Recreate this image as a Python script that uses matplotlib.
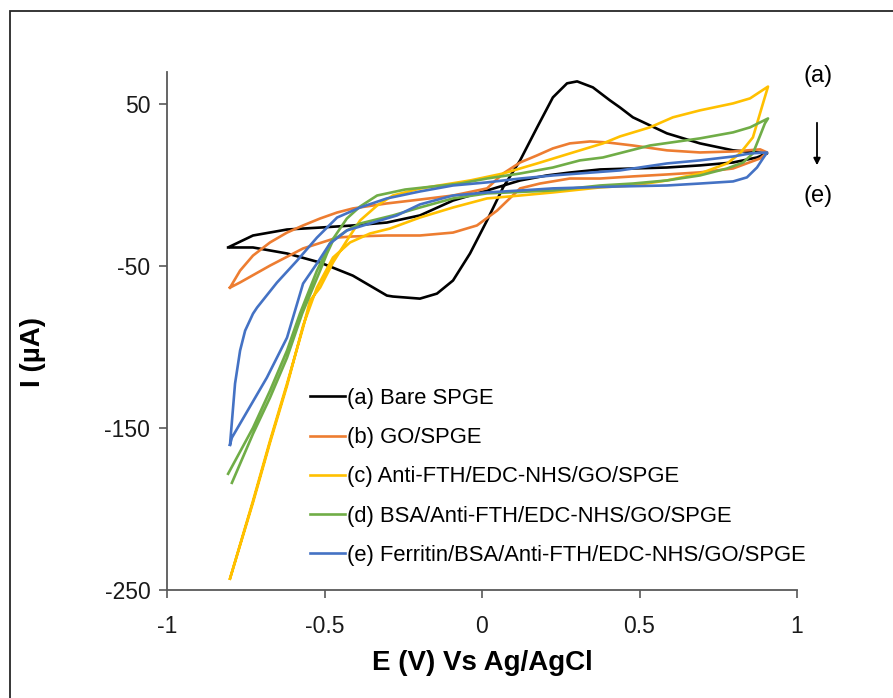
import matplotlib
matplotlib.use("Agg")
import matplotlib.pyplot as plt
from matplotlib.patches import Rectangle

plt.rcParams['font.family'] = ['Liberation Sans', 'DejaVu Sans']
plt.rcParams['axes.unicode_minus'] = False

# Cyclic voltammograms: potential (V vs Ag/AgCl) and current (uA)
bare_E = [-0.806, -0.727, -0.619, -0.514, -0.410, -0.302, -0.283, -0.197, -0.143, -0.092,
          -0.038, 0.016, 0.067, 0.121, 0.175, 0.225, 0.270, 0.302, 0.352, 0.406, 0.438,
          0.479, 0.587, 0.692, 0.797, 0.873, 0.905,
          0.873, 0.797, 0.692, 0.587, 0.479, 0.375, 0.279, 0.206, 0.121, 0.016, -0.092,
          -0.197, -0.302, -0.410, -0.514, -0.619, -0.727, -0.800]
bare_I = [-38.4, -38.4, -42.1, -47.7, -55.8, -68.1, -68.7, -70.0, -66.9, -58.8,
          -42.1, -21.7, -1.3, 15.4, 35.8, 54.3, 63.0, 64.2, 60.5, 52.5, 48.1,
          42.0, 32.1, 25.9, 21.6, 20.3, 19.7,
          17.2, 14.1, 12.3, 11.0, 10.4, 9.8, 7.9, 6.1, 3.0, -3.2, -9.4,
          -18.6, -23.0, -24.8, -26.1, -27.3, -31.0, -37.8]

go_E = [-0.800, -0.768, -0.727, -0.673, -0.619, -0.568, -0.514, -0.460, -0.410, -0.302,
        -0.197, -0.092, 0.016, 0.067, 0.121, 0.175, 0.225, 0.279, 0.343, 0.397, 0.479,
        0.587, 0.692, 0.797, 0.883, 0.905,
        0.883, 0.797, 0.692, 0.587, 0.479, 0.375, 0.279, 0.184, 0.121, 0.048, -0.016,
        -0.092, -0.197, -0.302, -0.410, -0.460, -0.568, -0.673, -0.768, -0.800]
go_I = [-63.2, -52.7, -43.4, -35.3, -29.2, -24.8, -20.5, -16.8, -14.3, -11.2,
        -8.8, -6.3, -1.9, 7.3, 14.1, 18.5, 22.8, 25.9, 27.1, 26.5, 24.6,
        21.6, 20.3, 20.9, 22.2, 20.3,
        16.6, 10.4, 8.0, 6.7, 5.5, 4.2, 4.2, 1.1, -1.9, -15.6, -24.8,
        -29.2, -31.0, -31.0, -31.6, -32.3, -39.0, -49.6, -60.0, -63.2]

anti_E = [-0.800, -0.727, -0.673, -0.619, -0.568, -0.546, -0.514, -0.473, -0.429, -0.387,
          -0.333, -0.283, -0.197, -0.038, 0.067, 0.175, 0.279, 0.384, 0.438, 0.533,
          0.606, 0.692, 0.797, 0.851, 0.908,
          0.892, 0.860, 0.819, 0.778, 0.692, 0.587, 0.479, 0.375, 0.225, 0.121, 0.016,
          -0.092, -0.197, -0.292, -0.356, -0.419, -0.473, -0.524, -0.568, -0.619, -0.673,
          -0.727, -0.800]
anti_I = [-243.0, -194.9, -157.8, -122.5, -87.9, -71.2, -63.2, -47.7, -34.1, -21.7,
          -12.5, -6.3, -2.0, 3.0, 7.3, 13.5, 19.7, 25.9, 30.2, 35.8,
          42.0, 46.3, 50.6, 53.7, 61.0,
          50.6, 29.6, 19.7, 13.5, 7.3, 3.0, -0.1, -1.3, -4.4, -6.3, -8.1,
          -13.7, -19.9, -26.7, -29.8, -35.3, -44.6, -63.2, -86.7, -123.8, -159.0,
          -196.0, -243.0]

bsa_E = [-0.806, -0.727, -0.673, -0.619, -0.578, -0.524, -0.483, -0.429, -0.387, -0.333,
         -0.244, -0.070, 0.016, 0.121, 0.225, 0.311, 0.384, 0.533, 0.692, 0.797, 0.851,
         0.908,
         0.898, 0.883, 0.860, 0.829, 0.778, 0.692, 0.587, 0.479, 0.375, 0.225, 0.016,
         -0.092, -0.197, -0.283, -0.387, -0.429, -0.473, -0.492, -0.514, -0.571, -0.619,
         -0.673, -0.727, -0.794]
bsa_I = [-178.2, -149.8, -126.9, -102.1, -79.3, -52.7, -36.0, -20.5, -13.1, -6.3,
         -2.6, 1.1, 4.2, 7.3, 11.0, 15.4, 17.2, 24.6, 29.0, 32.7, 35.8,
         41.3,
         38.2, 30.8, 19.7, 14.1, 10.4, 6.1, 3.0, 1.1, -0.1, -3.2, -5.0,
         -8.1, -13.7, -18.6, -23.6, -27.9, -34.1, -42.1, -52.7, -79.3, -106.5,
         -131.2, -153.5, -183.8]

fer_E = [-0.800, -0.784, -0.768, -0.752, -0.727, -0.714, -0.651, -0.587, -0.524, -0.460,
         -0.387, -0.302, -0.197, -0.092, 0.016, 0.121, 0.225, 0.438, 0.587, 0.692, 0.797,
         0.851, 0.905,
         0.892, 0.873, 0.841, 0.797, 0.692, 0.587, 0.438, 0.225, 0.121, 0.016, -0.092,
         -0.197, -0.270, -0.356, -0.429, -0.483, -0.524, -0.568, -0.619, -0.683, -0.794,
         -0.800]
fer_I = [-160.3, -122.5, -102.1, -89.8, -79.3, -75.5, -60.1, -46.5, -32.3, -19.9,
         -13.7, -8.1, -3.8, -0.1, 1.8, 4.2, 6.1, 9.2, 13.5, 15.4, 17.8,
         19.7, 20.3,
         16.6, 11.0, 4.9, 2.4, 1.1, -0.1, -0.7, -1.9, -3.2, -4.4, -6.3,
         -11.8, -18.6, -23.6, -27.9, -36.0, -48.3, -60.7, -94.1, -118.8, -155.9,
         -160.3]

series = [
    (bare_E, bare_I, '#000000', '(a) Bare SPGE'),
    (go_E, go_I, '#ED7D31', '(b) GO/SPGE'),
    (anti_E, anti_I, '#FFC000', '(c) Anti-FTH/EDC-NHS/GO/SPGE'),
    (bsa_E, bsa_I, '#70AD47', '(d) BSA/Anti-FTH/EDC-NHS/GO/SPGE'),
    (fer_E, fer_I, '#4472C4', '(e) Ferritin/BSA/Anti-FTH/EDC-NHS/GO/SPGE'),
]

x_ticks = [-1, -0.5, 0, 0.5, 1]
x_tick_labels = ['-1', '-0.5', '0', '0.5', '1']
y_ticks = [-250, -150, -50, 50]

W, H = 893, 698
fig = plt.figure(figsize=(W / 100, H / 100), dpi=100)
fig.patch.set_facecolor('white')

# outer frame (runs off the right and bottom edges)
fig.patches.append(Rectangle((10 / W, -0.1), 1.2, 1 - 11 / H + 0.1,
                             transform=fig.transFigure, fill=False,
                             edgecolor='#262626', linewidth=1.3))

ax = fig.add_axes([167 / W, 1 - 590 / H, (797 - 167) / W, (590 - 72) / H])
for E, I, c, lab in series:
    ax.plot(E, I, color=c, lw=1.9, label=lab, solid_joinstyle='round')

ax.set_xlim(-1, 1)
ax.set_ylim(-250, 70)
ax.set_xticks(x_ticks)
ax.set_xticklabels(x_tick_labels)
ax.set_yticks(y_ticks)
ax.tick_params(axis='both', labelsize=16.5, length=6, width=1.2,
               color='#595959', labelcolor='#1a1a1a', direction='out')
ax.tick_params(axis='x', pad=12)
ax.tick_params(axis='y', pad=6)
for s in ['top', 'right']:
    ax.spines[s].set_visible(False)
for s in ['left', 'bottom']:
    ax.spines[s].set_color('#595959')
    ax.spines[s].set_linewidth(1.3)

ax.set_xlabel('E (V) Vs Ag/AgCl', fontsize=20, fontweight='bold', labelpad=9)
ax.set_ylabel('I (µA)', fontsize=20, fontweight='bold')
ax.yaxis.set_label_coords(-0.192, 0.46)

leg = fig.legend(loc='upper left', bbox_to_anchor=(310 / W, 1 - 388 / H),
                 frameon=False, fontsize=15.8, handlelength=1.6,
                 handletextpad=0.1, labelspacing=0.83, borderpad=0,
                 borderaxespad=0)

# (a) -> (e) trend marker
fig.text(818 / W, 1 - 76 / H, '(a)', fontsize=17, ha='center', va='center')
fig.text(818 / W, 1 - 196 / H, '(e)', fontsize=17, ha='center', va='center')
ax.annotate('', xy=(817 / W, 1 - 168 / H), xytext=(817 / W, 1 - 120 / H),
            xycoords='figure fraction', textcoords='figure fraction',
            arrowprops=dict(arrowstyle='-|>', color='black', lw=1.3,
                            mutation_scale=10))

fig.savefig('out.png', dpi=100)
